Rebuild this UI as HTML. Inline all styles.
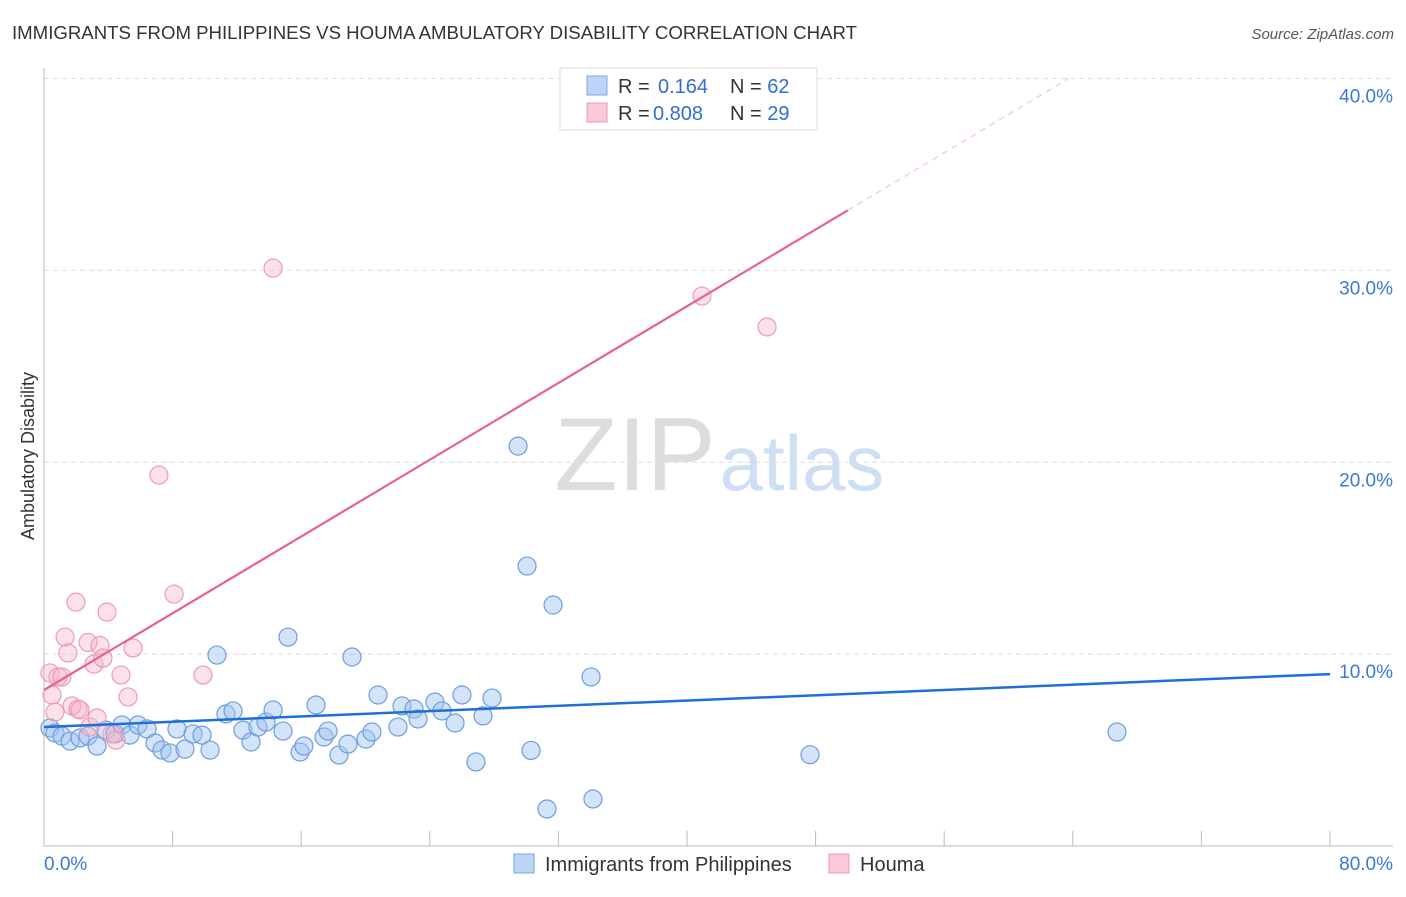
<!DOCTYPE html>
<html><head><meta charset="utf-8"><style>
body{margin:0;background:#fff;font-family:"Liberation Sans",sans-serif;}
svg text{font-family:"Liberation Sans",sans-serif;}
</style></head><body>
<svg id="chart" width="1406" height="892">
<text x="12" y="39" font-size="18" fill="#333" textLength="845" lengthAdjust="spacingAndGlyphs">IMMIGRANTS FROM PHILIPPINES VS HOUMA AMBULATORY DISABILITY CORRELATION CHART</text>
<text x="1394" y="39" font-size="15" fill="#555" font-style="italic" text-anchor="end">Source: ZipAtlas.com</text>
<g>
<text x="635" y="490" font-size="104" fill="#ddd" font-family="Liberation Serif" text-anchor="middle">ZIP</text>
<text x="802" y="490" font-size="78" fill="#cfdff3" text-anchor="middle">atlas</text>
</g>
<g id="grid"></g>
<g id="axes"></g>
<g id="pts"></g>
<g id="lines"></g>
<text x="34" y="456" font-size="18" fill="#333" transform="rotate(-90 34 456)" text-anchor="middle">Ambulatory Disability</text>
<g>
<rect x="560" y="68" width="257" height="62" fill="#fff" stroke="#ddd"/>
<rect x="587" y="76" width="20" height="19" fill="#bcd4f5" stroke="#7ea6e0"/>
<rect x="587" y="103" width="20" height="19" fill="#fac8d8" stroke="#ef9ab5"/>
<text x="618" y="93" font-size="20" fill="#333">R = <tspan fill="#2f6fd0" x="658">0.164</tspan><tspan x="730">N = </tspan><tspan fill="#2f6fd0">62</tspan></text>
<text x="618" y="120" font-size="20" fill="#333">R = <tspan fill="#2f6fd0" x="653">0.808</tspan><tspan x="730">N = </tspan><tspan fill="#2f6fd0">29</tspan></text>
</g>
<g>
<rect x="514" y="854" width="20" height="19" fill="#bcd4f5" stroke="#7ea6e0"/>
<text x="545" y="871" font-size="20" fill="#333">Immigrants from Philippines</text>
<rect x="829" y="854" width="20" height="19" fill="#fac8d8" stroke="#ef9ab5"/>
<text x="860" y="871" font-size="20" fill="#333">Houma</text>
</g>
</svg>
<script>
const blueX=[0.37,0.68,1.12,1.62,2.24,2.74,3.30,3.86,4.42,4.85,5.35,5.85,6.41,6.91,7.34,7.84,8.27,8.77,9.27,9.83,10.33,10.76,11.32,11.76,12.38,12.88,13.31,13.81,14.25,14.87,15.18,15.93,16.17,16.92,17.42,17.67,18.35,18.91,19.16,20.03,20.40,20.78,22.02,22.27,23.02,23.27,24.32,24.76,25.57,26.00,26.87,27.31,27.87,29.49,30.05,30.30,31.29,31.67,34.03,34.15,47.65,66.75];
const blueY=[6.15,5.89,5.73,5.47,5.63,5.73,5.21,6.04,5.84,6.31,5.78,6.31,6.10,5.37,5.00,4.85,6.10,5.05,5.84,5.78,5.00,9.95,6.88,7.04,6.04,5.42,6.20,6.46,7.09,5.99,10.89,4.90,5.21,7.35,5.68,5.99,4.74,5.31,9.85,5.57,5.94,7.87,6.20,7.30,7.14,6.62,7.50,7.04,6.41,7.87,4.38,6.78,7.71,20.84,14.59,4.98,1.93,12.56,8.81,2.45,4.76,5.94];
const pinkX=[0.37,0.50,0.68,0.87,1.12,1.31,1.49,1.74,1.99,2.12,2.24,2.74,2.86,3.11,3.30,3.48,3.67,3.92,4.23,4.48,4.79,5.23,5.54,7.15,8.09,9.89,14.25,40.93,44.98];
const pinkY=[9.02,7.87,6.98,8.81,8.81,10.89,10.06,7.30,12.71,7.14,7.09,10.61,6.20,9.48,6.67,10.45,9.79,12.19,5.84,5.52,8.91,7.77,10.32,19.33,13.13,8.91,30.12,28.66,27.05];
const blueLine=[6.2,8.96];
const pinkLine=[8.13,0.5];
const yTicks=[10,20,30,40];
const yTickLabels=["10.0%","20.0%","30.0%","40.0%"];
const xTicks=[0,8,16,24,32,40,48,56,64,72,80];
const NS="http://www.w3.org/2000/svg";
const X=v=>44+v/80*1286;
const Y=v=>846-v/40*767.5;
function mk(tag,attrs,parent){const e=document.createElementNS(NS,tag);for(const k in attrs)e.setAttribute(k,attrs[k]);document.getElementById(parent).appendChild(e);return e;}
yTicks.forEach((t,i)=>{
 const g=mk('line',{x1:44,x2:1393,y1:Y(t),y2:Y(t),stroke:'#ddd','stroke-dasharray':'5,4'},'grid');
 
 
 const l=mk('text',{x:1393,y:Y(t)+24,'font-size':19,fill:'#3a78d8','text-anchor':'end'},'grid');
 l.textContent=yTickLabels[i];
 
 
});
let a=mk('line',{x1:44,x2:44,y1:68,y2:846,stroke:'#bbb'},'axes');


a=mk('line',{x1:44,x2:1393,y1:846,y2:846,stroke:'#bbb'},'axes');


xTicks.forEach(t=>{
 const k=mk('line',{x1:X(t),x2:X(t),y1:831,y2:846,stroke:'#bbb'},'axes');
 
 
});
let t0=mk('text',{x:44,y:870,'font-size':19,fill:'#3a78d8'},'axes');t0.textContent='0.0%';


let t1=mk('text',{x:1393,y:870,'font-size':19,fill:'#3a78d8','text-anchor':'end'},'axes');t1.textContent='80.0%';


blueX.forEach((x,i)=>{
 const c=mk('circle',{cx:X(x),cy:Y(blueY[i]),r:9,fill:'rgba(160,196,240,0.45)',stroke:'#6d9de0','stroke-width':1.2},'pts');
 
 
});
pinkX.forEach((x,i)=>{
 const c=mk('circle',{cx:X(x),cy:Y(pinkY[i]),r:9,fill:'rgba(248,180,200,0.4)',stroke:'#ef9ab5','stroke-width':1.2},'pts');
 
 
});
let bl=mk('line',{x1:X(0),y1:Y(blueLine[0]),x2:X(80),y2:Y(blueLine[1]),stroke:'#1f6fd6','stroke-width':2.5},'lines');


const pe=50, pm=(40.0-pinkLine[0])/pinkLine[1];
let pl=mk('line',{x1:X(0),y1:Y(pinkLine[0]),x2:X(pe),y2:Y(pinkLine[0]+pinkLine[1]*pe),stroke:'#e8628f','stroke-width':2.2},'lines');


let pd=mk('line',{x1:X(pe),y1:Y(pinkLine[0]+pinkLine[1]*pe),x2:X(pm),y2:Y(pinkLine[0]+pinkLine[1]*pm),stroke:'#f5c3d3','stroke-width':1.2,'stroke-dasharray':'6,5'},'lines');


</script>
</body></html>
